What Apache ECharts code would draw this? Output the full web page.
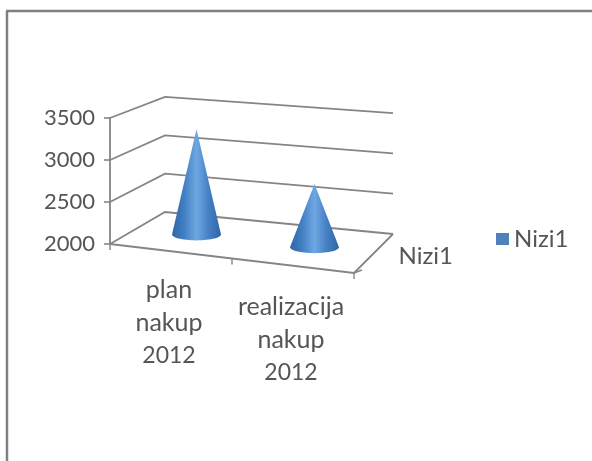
<!DOCTYPE html>
<html>
<head>
<meta charset="utf-8">
<style>html,body{margin:0;padding:0;background:#fff}#c{width:592px;height:461px;filter:blur(0.5px)}</style>
<script src="https://cdn.jsdelivr.net/npm/echarts@6/dist/echarts.min.js"></script>
</head>
<body>
<div id="c"></div>
<script>
const categories = ['plan\nnakup\n2012', 'realizacija\nnakup\n2012'];
const seriesName = 'Nizi1';
const values = [3300, 2770];
const yTicks = [2000, 2500, 3000, 3500];

const GRID_LEFT = 110, GRID_TOP = 118, GRID_W = 244, GRID_H = 126;
const FONT = 'Lato, "Open Sans", sans-serif';
const TEXT = '#555555', LINE = '#858585';
const YMIN = 2000;

// 3-D look: shear the plain cartesian pixel position into the tilted box.
function project(api, px, py, depth) {
  const base = api.coord([0, YMIN])[1];
  const t = (px - GRID_LEFT) / GRID_W;
  const dx = 55 + (39 - 55) * t, dy = -32 + (-39 + 32) * t;
  const hs = 1 + ((0.913 + (0.96 - 0.913) * t) - 1) * depth;
  return [px + dx * depth, base + 29 * t + dy * depth - (base - py) * hs];
}
function edges(api) {
  const c0 = api.coord([0, YMIN]), s = api.size([1, 0]);
  const left = c0[0] - s[0] / 2;
  return [left, left + s[0] * 2];
}
function line(pts, w) {
  return { type: 'polyline', shape: { points: pts }, style: { fill: null, stroke: LINE, lineWidth: w || 1.8 } };
}
function renderWall(params, api) {
  const v = api.value(1);
  const [l, r] = edges(api);
  const y = api.coord([0, v])[1];
  const kids = [line([project(api, l, y, 0), project(api, l, y, 1), project(api, r, y, 1)])];
  if (v === YMIN) {
    const fr = project(api, r, y, 0), br = project(api, r, y, 1), fl = project(api, l, y, 0);
    kids.push(line([fl, fr, br]));
    kids.push(line([[fr[0], fr[1]], [fr[0] + 8, fr[1] - 3]], 1.4));
    [0, 0.5, 1].forEach(function (f) {
      const p = project(api, l + (r - l) * f, y, 0);
      kids.push(line([p, [p[0], p[1] + 6]], 1.4));
    });
    const m = project(api, r, y, 0.5);
    kids.push({ type: 'text', style: { text: seriesName, x: m[0] + 25, y: m[1] + 3, font: '24px ' + FONT, fill: TEXT, align: 'left', verticalAlign: 'middle' } });
  }
  return { type: 'group', children: kids };
}
function renderCone(params, api) {
  const c = api.coord([api.value(0), YMIN]);
  const top = api.coord([api.value(0), api.value(1)]);
  const base = project(api, c[0], c[1], 0.5);
  const apex = project(api, c[0], top[1], 0.5);
  const rx = 24.5, ry = 6;
  const pts = [[base[0], apex[1]]];
  for (let a = 0; a <= 180; a += 6) {
    const r = a * Math.PI / 180;
    pts.push([base[0] + rx * Math.cos(r), base[1] + ry * Math.sin(r)]);
  }
  return {
    type: 'polygon', shape: { points: pts },
    style: {
      fill: new echarts.graphic.LinearGradient(0, 0, 1, 0, [
        { offset: 0, color: '#2f66a8' }, { offset: 0.25, color: '#437fc4' },
        { offset: 0.5, color: '#6ea8e2' }, { offset: 0.75, color: '#457fc4' },
        { offset: 1, color: '#2f65a6' }
      ])
    }
  };
}

const chart = echarts.init(document.getElementById('c'));
chart.setOption({
  animation: false,
  backgroundColor: '#fff',
  grid: { left: GRID_LEFT, top: GRID_TOP, width: GRID_W, height: GRID_H },
  legend: {
    data: [{ name: seriesName, icon: 'rect', itemStyle: { color: '#4f81bd' } }],
    left: 491, top: 222, itemWidth: 13, itemHeight: 12, itemGap: 5,
    textStyle: { fontFamily: FONT, fontSize: 24, color: TEXT }
  },
  xAxis: {
    type: 'category', data: categories,
    axisLine: { show: false }, axisTick: { show: false }, splitLine: { show: false },
    axisLabel: {
      margin: 29, interval: 0,
      formatter: function (v, i) {
        const parts = v.split('\n').map(s => (/^\d+$/.test(s) ? '{d|' : '{a|') + s + '}').join('\n');
        return i === 1 ? '{s| }\n' + parts : parts;
      },
      rich: {
        a: { fontFamily: FONT, fontSize: 25, color: TEXT, lineHeight: 33, align: 'center', width: 120, padding: [0, 4, 0, 0] },
        d: { fontFamily: FONT, fontSize: 23, color: TEXT, lineHeight: 33, align: 'center', width: 120, padding: [0, 4, 0, 0] },
        s: { fontSize: 10, lineHeight: 17 }
      }
    }
  },
  yAxis: {
    type: 'value', min: 2000, max: 3500, interval: 500,
    axisLine: { show: true, onZero: false, lineStyle: { color: LINE, width: 1.8 } },
    axisTick: { show: true, length: 6, lineStyle: { color: LINE, width: 1.6 } },
    splitLine: { show: false },
    axisLabel: { margin: 15, fontFamily: FONT, fontSize: 22, color: TEXT, formatter: function (v) { return String(v); } }
  },
  graphic: [
    { type: 'line', shape: { x1: 7, y1: 11, x2: 7, y2: 461 }, style: { stroke: '#808080', lineWidth: 2.5 } },
    { type: 'line', shape: { x1: 6, y1: 11, x2: 592, y2: 11 }, style: { stroke: '#808080', lineWidth: 2.5 } }
  ],
  series: [
    { name: 'walls', type: 'custom', z: 1, silent: true, renderItem: renderWall, encode: { x: 0, y: 1 },
      data: yTicks.map(v => [0, v]) },
    { name: seriesName, type: 'custom', z: 2, renderItem: renderCone, encode: { x: 0, y: 1 },
      itemStyle: { color: '#4f81bd' },
      data: values.map((v, i) => [i, v]) }
  ]
});
</script>
</body>
</html>
